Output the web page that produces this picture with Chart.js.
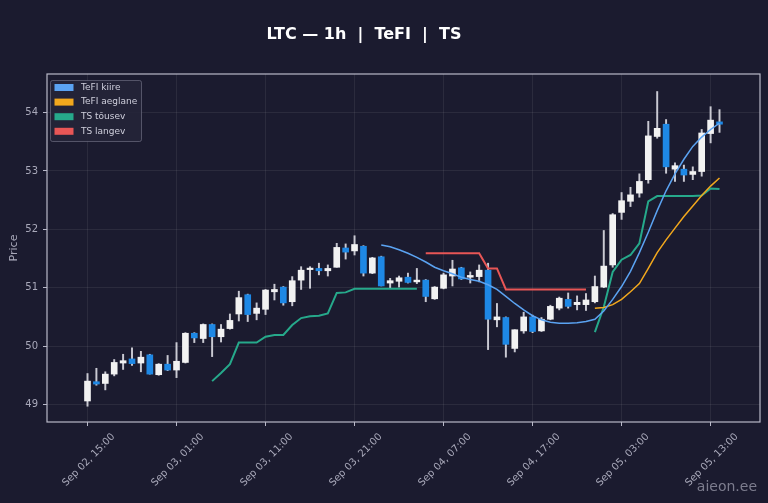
<!DOCTYPE html>
<html>
<head>
<meta charset="utf-8">
<script src="https://cdn.jsdelivr.net/npm/chart.js@4.4.1/dist/chart.umd.min.js"></script>
<style>
  html, body { margin: 0; padding: 0; background: #1b1b2f; }
  #wrap { width: 768px; height: 503px; }
</style>
</head>
<body>
<div id="wrap"><canvas id="myChart" width="768" height="503"></canvas></div>
<script>
// hourly candles, index 0 = Sep 02 15:00
const openP  = [49.06,49.39,49.36,49.52,49.71,49.78,49.71,49.85,49.51,49.69,49.59,49.72,50.22,50.13,50.37,50.16,50.30,50.55,50.88,50.56,50.63,50.93,51.01,50.76,51.13,51.31,51.33,51.29,51.35,51.68,51.63,51.71,51.25,51.53,51.08,51.11,51.18,51.10,51.13,50.81,50.99,51.20,51.34,51.18,51.19,51.30,50.45,50.49,49.96,50.26,50.50,50.26,50.46,50.65,50.80,50.71,50.71,50.76,51.01,51.39,52.29,52.48,52.62,52.85,53.59,53.80,53.03,53.03,52.94,52.99,53.64,53.84];
const highP  = [49.53,49.62,49.56,49.77,49.86,49.97,49.91,49.86,49.70,49.84,50.06,50.23,50.23,50.38,50.38,50.37,50.55,50.94,50.89,50.74,50.97,51.06,51.02,51.19,51.36,51.36,51.42,51.39,51.76,51.75,51.89,51.72,51.52,51.54,51.16,51.20,51.25,51.33,51.14,51.02,51.25,51.47,51.35,51.27,51.39,51.42,50.73,50.50,50.28,50.58,50.53,50.49,50.70,50.84,50.91,50.86,50.90,51.20,51.98,52.27,52.63,52.72,52.95,53.85,54.36,53.88,53.14,53.10,53.07,53.71,54.10,54.05];
const lowP   = [48.97,49.33,49.25,49.49,49.60,49.67,49.56,49.52,49.50,49.58,49.46,49.71,50.06,50.06,49.82,50.07,50.29,50.43,50.42,50.45,50.54,50.79,50.70,50.69,50.97,50.99,51.22,51.20,51.35,51.49,51.56,51.20,51.24,51.03,51.00,51.01,51.08,51.07,50.76,50.80,50.98,51.03,51.14,51.08,51.10,49.94,50.33,49.81,49.90,50.22,50.23,50.25,50.45,50.62,50.65,50.62,50.61,50.74,51.00,51.35,52.17,52.39,52.55,52.79,53.56,52.96,52.82,52.82,52.85,52.91,53.48,53.66];
const closeP = [49.40,49.35,49.52,49.72,49.75,49.70,49.81,49.52,49.69,49.59,49.74,50.22,50.14,50.37,50.16,50.29,50.44,50.83,50.54,50.65,50.96,50.97,50.74,51.12,51.30,51.33,51.29,51.33,51.69,51.61,51.74,51.25,51.51,51.03,51.12,51.17,51.09,51.13,50.85,51.01,51.22,51.32,51.15,51.21,51.30,50.46,50.50,50.03,50.28,50.50,50.25,50.46,50.68,50.82,50.68,50.75,50.79,51.02,51.37,52.25,52.49,52.59,52.82,53.60,53.73,53.07,53.09,52.93,52.99,53.65,53.87,53.80];

// indicators, null = not shown
const tefiFast = [null,null,null,null,null,null,null,null,null,null,null,null,null,null,null,null,null,null,null,null,null,null,null,null,null,null,null,null,null,null,null,null,null,
  51.73,51.70,51.65,51.59,51.52,51.44,51.35,51.29,51.24,51.18,51.14,51.11,51.05,50.97,50.85,50.73,50.62,50.52,50.45,50.41,50.39,50.39,50.40,50.42,50.46,50.60,50.80,51.02,51.28,51.60,51.95,52.32,52.66,52.95,53.20,53.42,53.58,53.71,53.82];
const tefiSlow = [null,null,null,null,null,null,null,null,null,null,null,null,null,null,null,null,null,null,null,null,null,null,null,null,null,null,null,null,null,null,null,null,null,null,null,null,null,null,null,null,null,null,null,null,null,null,null,null,null,null,null,null,null,null,null,null,null,
  50.65,50.66,50.71,50.80,50.93,51.07,51.33,51.60,51.82,52.02,52.22,52.40,52.58,52.74,52.88];
const tsUp = [null,null,null,null,null,null,null,null,null,null,null,null,null,null,
  49.40,49.54,49.69,50.06,50.06,50.06,50.16,50.19,50.19,50.36,50.48,50.51,50.52,50.56,50.91,50.92,50.98,50.98,50.98,50.98,50.98,50.98,50.98,50.98,
  null,null,null,null,null,null,null,null,null,null,null,null,null,null,null,null,null,null,null,
  50.24,50.67,51.27,51.48,51.56,51.76,52.48,52.57,52.57,52.57,52.57,52.57,52.58,52.70,52.69];
const tsDown = [null,null,null,null,null,null,null,null,null,null,null,null,null,null,null,null,null,null,null,null,null,null,null,null,null,null,null,null,null,null,null,null,null,null,null,null,null,null,
  51.59,51.59,51.59,51.59,51.59,51.59,51.59,51.33,51.33,50.97,50.97,50.97,50.97,50.97,50.97,50.97,50.97,50.97,50.97,
  null,null,null,null,null,null,null,null,null,null,null,null,null,null,null];

const tickIdx = [0, 10, 20, 30, 40, 50, 60, 70];
const tickLabels = ['Sep 02, 15:00','Sep 03, 01:00','Sep 03, 11:00','Sep 03, 21:00','Sep 04, 07:00','Sep 04, 17:00','Sep 05, 03:00','Sep 05, 13:00'];
const yTicks = [49, 50, 51, 52, 53, 54];

const upColor = '#f2f2f2';
const downColor = '#1e88e5';
const textColor = '#a9a9ba';
const gridColor = 'rgba(255,255,255,0.07)';

const toXY = arr => arr.map((v, i) => ({ x: i, y: v }));

const bodies = openP.map((o, i) => ({ x: i, y: [o, closeP[i]] }));
const wicks = lowP.map((l, i) => ({ x: i, y: [l, highP[i]] }));
const bodyColors = openP.map((o, i) => closeP[i] >= o ? upColor : downColor);

const legendItems = [
  { text: 'TeFI kiire', color: '#5ba3f2' },
  { text: 'TeFI aeglane', color: '#f2a81d' },
  { text: 'TS tõusev', color: '#26a98b' },
  { text: 'TS langev', color: '#e85656' }
];

const decor = {
  id: 'decor',
  beforeDraw(chart) {
    const c = chart.ctx;
    c.save();
    c.fillStyle = '#1b1b2f';
    c.fillRect(0, 0, chart.width, chart.height);
    c.restore();
  },
  afterDatasetsDraw(chart) {
    const c = chart.ctx;
    const a = chart.chartArea;
    // legend box
    const bx = a.left + 3, by = a.top + 6, bw = 91, bh = 61;
    c.save();
    c.fillStyle = 'rgba(36,36,56,0.85)';
    c.strokeStyle = 'rgba(120,120,140,0.6)';
    c.lineWidth = 1;
    c.beginPath();
    c.roundRect(bx + 0.5, by + 0.5, bw, bh, 2);
    c.fill();
    c.stroke();
    c.font = '9px "DejaVu Sans"';
    c.textBaseline = 'middle';
    legendItems.forEach((it, k) => {
      const cy = by + 7.5 + k * 14.6;
      c.fillStyle = it.color;
      c.fillRect(bx + 4.5, cy - 3.5, 19, 7);
      c.fillStyle = '#cfcfdc';
      c.fillText(it.text, bx + 31, cy);
    });
    c.restore();
  },
  afterDraw(chart) {
    const c = chart.ctx;
    const a = chart.chartArea;
    c.save();
    // frame round the plot
    c.strokeStyle = '#b9b9c9';
    c.lineWidth = 1.2;
    c.strokeRect(a.left, a.top, a.right - a.left, a.bottom - a.top);
    // title
    c.fillStyle = '#ffffff';
    c.font = 'bold 16px "DejaVu Sans"';
    c.textAlign = 'center';
    c.textBaseline = 'middle';
    c.fillText('LTC \u2014 1h  |  TeFI  |  TS', 364, 35);
    // watermark
    c.fillStyle = 'rgba(190,190,205,0.6)';
    c.font = '14px "DejaVu Sans"';
    c.textAlign = 'right';
    c.textBaseline = 'alphabetic';
    c.fillText('aieon.ee', 757, 491);
    c.restore();
  }
};

new Chart(document.getElementById('myChart'), {
  type: 'bar',
  data: {
    datasets: [
      { type: 'line', label: 'TeFI kiire', data: toXY(tefiFast), borderColor: '#5ba3f2', borderWidth: 1.5, pointRadius: 0, spanGaps: false, order: 0 },
      { type: 'line', label: 'TeFI aeglane', data: toXY(tefiSlow), borderColor: '#f2a81d', borderWidth: 1.5, pointRadius: 0, spanGaps: false, order: 0 },
      { type: 'line', label: 'TS tõusev', data: toXY(tsUp), borderColor: '#26a98b', borderWidth: 2, pointRadius: 0, spanGaps: false, order: 0 },
      { type: 'line', label: 'TS langev', data: toXY(tsDown), borderColor: '#e85656', borderWidth: 2, pointRadius: 0, spanGaps: false, order: 0 },
      { label: 'body', data: bodies, backgroundColor: bodyColors, barThickness: 6, minBarLength: 1.5, grouped: false, order: 1 },
      { label: 'wick', data: wicks, backgroundColor: '#c9c9d2', barThickness: 1.3, grouped: false, order: 2 }
    ]
  },
  options: {
    responsive: false,
    animation: false,
    layout: { padding: { top: 74, right: 8, left: 0, bottom: 0 } },
    plugins: {
      legend: { display: false },
      tooltip: { enabled: false },
      title: { display: false }
    },
    scales: {
      x: {
        type: 'linear',
        min: -4.55,
        max: 75.55,
        offset: false,
        afterBuildTicks: s => { s.ticks = tickIdx.map(v => ({ value: v })); },
        afterFit: s => { s.height = 81; },
        ticks: {
          minRotation: 45,
          maxRotation: 45,
          labelOffset: 26,
          padding: 5,
          color: textColor,
          font: { family: 'DejaVu Sans', size: 10 },
          callback: (v, i) => tickLabels[i]
        },
        grid: { color: gridColor, tickColor: '#b9b9c9', tickLength: 4, offset: false },
        border: { display: false }
      },
      y: {
        min: 48.70,
        max: 54.66,
        afterBuildTicks: s => { s.ticks = yTicks.map(v => ({ value: v })); },
        afterFit: s => { s.width = 47; },
        ticks: {
          padding: 5,
          color: textColor,
          font: { family: 'DejaVu Sans', size: 10 }
        },
        grid: { color: gridColor, tickColor: '#b9b9c9', tickLength: 4 },
        border: { display: false },
        title: {
          display: true,
          text: 'Price',
          color: textColor,
          font: { family: 'DejaVu Sans', size: 11 },
          padding: { top: 8, bottom: 4 }
        }
      }
    }
  },
  plugins: [decor]
});
</script>
</body>
</html>
